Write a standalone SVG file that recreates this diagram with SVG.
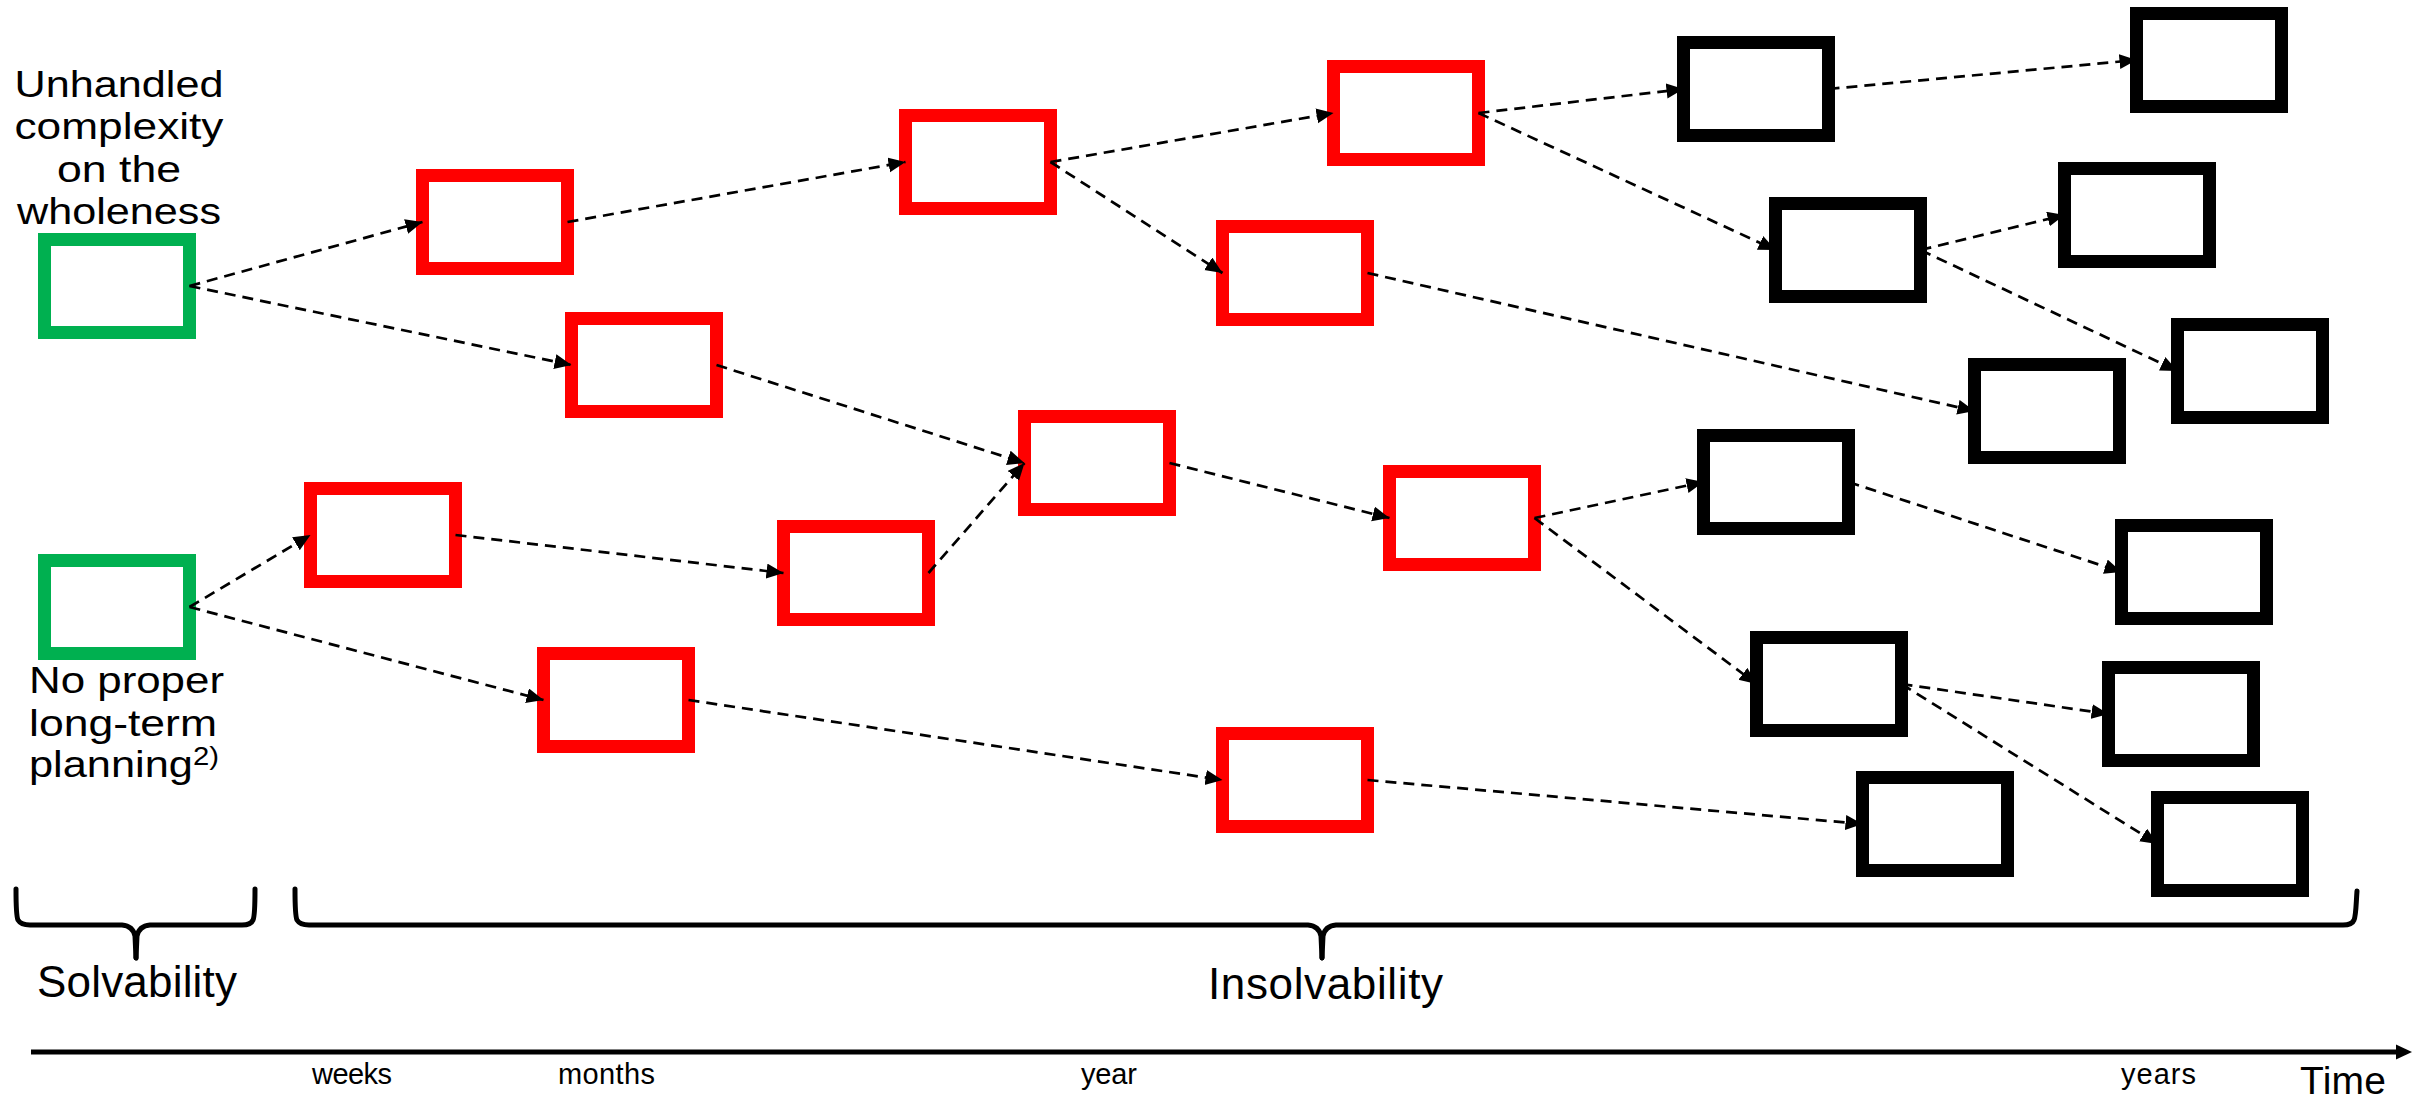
<svg xmlns="http://www.w3.org/2000/svg" width="2428" height="1098" viewBox="0 0 2428 1098">
<style>
.box{fill:#fff;stroke-width:13}
.g{stroke:#00B050}
.r{stroke:#FF0000}
.k{stroke:#000}
.c line{stroke:#000;stroke-width:2.7;stroke-dasharray:11 7;marker-end:url(#ah)}
.t{font-family:"Liberation Sans",Arial,sans-serif;fill:#000}
.big{font-size:44px}
.mid{font-size:37px}
.sm{font-size:29px}
.brace{fill:none;stroke:#000;stroke-width:5;stroke-linejoin:round;stroke-linecap:round}
</style>
<defs>
<marker id="ah" markerUnits="userSpaceOnUse" markerWidth="18" markerHeight="16" refX="17" refY="7.5" orient="auto">
<path d="M0,0 L17,7.5 L0,15 z" fill="#000"/>
</marker>
</defs>
<rect width="2428" height="1098" fill="#fff"/>
<g id="nodes">
<g id="G1"><rect class="box g" x="44.5" y="239.5" width="145" height="93"/></g>
<g id="G2"><rect class="box g" x="44.5" y="560.5" width="145" height="93"/></g>
<g id="R1"><rect class="box r" x="422.5" y="175.5" width="145" height="93"/></g>
<g id="R2"><rect class="box r" x="571.5" y="318.5" width="145" height="93"/></g>
<g id="R3"><rect class="box r" x="905.5" y="115.5" width="145" height="93"/></g>
<g id="R4"><rect class="box r" x="1333.5" y="66.5" width="145" height="93"/></g>
<g id="R5"><rect class="box r" x="1222.5" y="226.5" width="145" height="93"/></g>
<g id="R6"><rect class="box r" x="1024.5" y="416.5" width="145" height="93"/></g>
<g id="R7"><rect class="box r" x="310.5" y="488.5" width="145" height="93"/></g>
<g id="R8"><rect class="box r" x="783.5" y="526.5" width="145" height="93"/></g>
<g id="R9"><rect class="box r" x="1389.5" y="471.5" width="145" height="93"/></g>
<g id="R10"><rect class="box r" x="543.5" y="653.5" width="145" height="93"/></g>
<g id="R11"><rect class="box r" x="1222.5" y="733.5" width="145" height="93"/></g>
<g id="B1"><rect class="box k" x="1683.5" y="42.5" width="145" height="93"/></g>
<g id="B2"><rect class="box k" x="2136.5" y="13.5" width="145" height="93"/></g>
<g id="B3"><rect class="box k" x="1775.5" y="203.5" width="145" height="93"/></g>
<g id="B4"><rect class="box k" x="2064.5" y="168.5" width="145" height="93"/></g>
<g id="B5"><rect class="box k" x="2177.5" y="324.5" width="145" height="93"/></g>
<g id="B6"><rect class="box k" x="1974.5" y="364.5" width="145" height="93"/></g>
<g id="B7"><rect class="box k" x="1703.5" y="435.5" width="145" height="93"/></g>
<g id="B8"><rect class="box k" x="2121.5" y="525.5" width="145" height="93"/></g>
<g id="B9"><rect class="box k" x="1756.5" y="637.5" width="145" height="93"/></g>
<g id="B10"><rect class="box k" x="2108.5" y="667.5" width="145" height="93"/></g>
<g id="B11"><rect class="box k" x="1862.5" y="777.5" width="145" height="93"/></g>
<g id="B12"><rect class="box k" x="2157.5" y="797.5" width="145" height="93"/></g>
</g>
<g id="connectors" class="c">
<line x1="189.5" y1="286" x2="422.5" y2="222"/>
<line x1="189.5" y1="286" x2="571.5" y2="365"/>
<line x1="189.5" y1="607" x2="310.5" y2="535"/>
<line x1="189.5" y1="607" x2="543.5" y2="700"/>
<line x1="567.5" y1="222" x2="905.5" y2="162"/>
<line x1="1050.5" y1="162" x2="1333.5" y2="113"/>
<line x1="1050.5" y1="162" x2="1222.5" y2="273"/>
<line x1="716.5" y1="365" x2="1024.5" y2="463"/>
<line x1="455.5" y1="535" x2="783.5" y2="573"/>
<line x1="928.5" y1="573" x2="1024.5" y2="463"/>
<line x1="1169.5" y1="463" x2="1389.5" y2="518"/>
<line x1="688.5" y1="700" x2="1222.5" y2="780"/>
<line x1="1478.5" y1="113" x2="1683.5" y2="89"/>
<line x1="1478.5" y1="113" x2="1775.5" y2="250"/>
<line x1="1828.5" y1="89" x2="2136.5" y2="60"/>
<line x1="1920.5" y1="250" x2="2064.5" y2="215"/>
<line x1="1920.5" y1="250" x2="2177.5" y2="371"/>
<line x1="1367.5" y1="273" x2="1974.5" y2="411"/>
<line x1="1534.5" y1="518" x2="1703.5" y2="482"/>
<line x1="1534.5" y1="518" x2="1756.5" y2="684"/>
<line x1="1848.5" y1="482" x2="2121.5" y2="572"/>
<line x1="1901.5" y1="684" x2="2108.5" y2="714"/>
<line x1="1901.5" y1="684" x2="2157.5" y2="844"/>
<line x1="1367.5" y1="780" x2="1862.5" y2="824"/>
</g>
<g id="labels">
<text class="t mid" text-anchor="middle" x="119" y="97" textLength="209" lengthAdjust="spacingAndGlyphs">Unhandled</text>
<text class="t mid" text-anchor="middle" x="119" y="139" textLength="209" lengthAdjust="spacingAndGlyphs">complexity</text>
<text class="t mid" text-anchor="middle" x="119" y="182" textLength="124" lengthAdjust="spacingAndGlyphs">on the</text>
<text class="t mid" text-anchor="middle" x="119" y="224" textLength="204" lengthAdjust="spacingAndGlyphs">wholeness</text>
<text class="t mid" x="29" y="693" textLength="195" lengthAdjust="spacingAndGlyphs">No proper</text>
<text class="t mid" x="29" y="736" textLength="188" lengthAdjust="spacingAndGlyphs">long-term</text>
<text class="t mid" x="29" y="777" textLength="190" lengthAdjust="spacingAndGlyphs">planning<tspan font-size="25" dy="-12">2)</tspan></text>
</g>
<g id="braces">
<path class="brace" d="M16,889 C16,905 16,916 18,920 Q21,925 30,925 L122,925 Q133,926 135,936 L136,958"/>
<path class="brace" d="M136,958 L137,936 Q139,926 150,925 L242,925 Q251,925 253,920 C255,916 255,905 255,889"/>
<path class="brace" d="M295,889 C295,905 295,916 297,920 Q300,925 309,925 L1308,925 Q1319,926 1321,936 L1322,958"/>
<path class="brace" d="M1322,958 L1323,936 Q1325,926 1336,925 L2343,925 Q2352,925 2354,920 C2356,916 2356,905 2357,891"/>
<text class="t big" x="37" y="997" textLength="200">Solvability</text>
<text class="t big" x="1208" y="999" textLength="235">Insolvability</text>
</g>
<g id="axis">
<line x1="31" y1="1052" x2="2398" y2="1052" stroke="#000" stroke-width="5"/>
<path d="M2396,1044.5 L2412,1052 L2396,1059.5 z" fill="#000"/>
<text class="t sm" x="312" y="1084" textLength="80">weeks</text>
<text class="t sm" x="558" y="1084" textLength="97">months</text>
<text class="t sm" x="1081" y="1084" textLength="56">year</text>
<text class="t sm" x="2121" y="1084" textLength="75">years</text>
<text class="t" x="2300" y="1094" font-size="39" textLength="86">Time</text>
</g>
</svg>
